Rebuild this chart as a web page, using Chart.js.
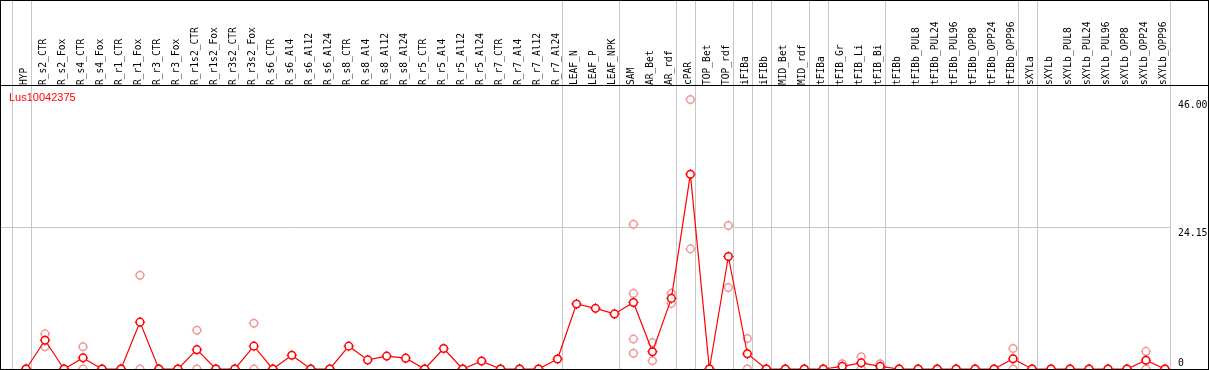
<!DOCTYPE html>
<html>
<head>
<meta charset="utf-8">
<script src="https://cdn.jsdelivr.net/npm/chart.js@4.4.1/dist/chart.umd.min.js"></script>
<style>
  html, body { margin: 0; padding: 0; background: #fff; }
  #wrap { width: 1209px; height: 370px; border: 1px solid #000; box-sizing: border-box; }
  canvas { display: block; }
</style>
</head>
<body>
<div id="wrap"><canvas id="myChart" width="1207" height="368"></canvas></div>
<script>
const geneName = "Lus10042375";

const categories = ["HYP", "R_s2_CTR", "R_s2_Fox", "R_s4_CTR", "R_s4_Fox", "R_r1_CTR", "R_r1_Fox", "R_r3_CTR", "R_r3_Fox",
  "R_r1s2_CTR", "R_r1s2_Fox", "R_r3s2_CTR", "R_r3s2_Fox", "R_s6_CTR", "R_s6_Al4", "R_s6_Al12", "R_s6_Al24",
  "R_s8_CTR", "R_s8_Al4", "R_s8_Al12", "R_s8_Al24", "R_r5_CTR", "R_r5_Al4", "R_r5_Al12", "R_r5_Al24",
  "R_r7_CTR", "R_r7_Al4", "R_r7_Al12", "R_r7_Al24", "LEAF_N", "LEAF_P", "LEAF_NPK", "SAM", "AR_Bet", "AR_rdf",
  "cPAR", "TOP_Bet", "TOP_rdf", "iFIBa", "iFIBb", "MID_Bet", "MID_rdf", "tFIBa", "tFIB_Gr", "tFIB_Li", "tFIB_Bi",
  "tFIBb", "tFIBb_PUL8", "tFIBb_PUL24", "tFIBb_PUL96", "tFIBb_OPP8", "tFIBb_OPP24", "tFIBb_OPP96",
  "sXYLa", "sXYLb", "sXYLb_PUL8", "sXYLb_PUL24", "sXYLb_PUL96", "sXYLb_OPP8", "sXYLb_OPP24", "sXYLb_OPP96"];

// mean expression per sample
const meanValues = [0, 4.9, 0, 1.9, 0, 0, 8.0, 0, 0, 3.3, 0, 0, 3.9, 0, 2.35, 0, 0,
  3.9, 1.55, 2.2, 1.85, 0, 3.5, 0, 1.35, 0, 0, 0, 1.7, 11.1, 10.35, 9.4, 11.35, 2.95, 12.05,
  33.25, 0, 19.2, 2.6, 0, 0, 0, 0, 0.45, 1.05, 0.45, 0, 0, 0, 0, 0, 0, 1.75,
  0, 0, 0, 0, 0, 0, 1.5, 0];

// replicates (null = none)
const repA = [0, 6.0, 0, 3.8, 0, 0, 16.0, 0, 0, 6.6, 0, 0, 7.8, 0, null, 0, 0,
  null, null, null, null, 0, null, 0, null, 0, 0, 0, null, null, null, null, 24.7, 4.5, 12.9,
  46.0, 0, 24.5, 5.2, 0, 0, 0, 0, 0.9, 2.1, 0.9, 0, 0, 0, 0, 0, 0, 3.5,
  0, 0, 0, 0, 0, 0, 3.0, 0];
const repB = [0, 3.8, 0, 0, 0, 0, 0, 0, 0, 0, 0, 0, 0, 0, null, 0, 0,
  null, null, null, null, 0, null, 0, null, 0, 0, 0, null, null, null, null, 12.9, 1.4, 11.2,
  20.5, 0, 13.9, 0, 0, 0, 0, 0, 0, 0, 0, 0, 0, 0, 0, 0, 0, 0,
  0, 0, 0, 0, 0, 0, 0, 0];
const repC = categories.map(c => c === "SAM" ? 5.1 : null);
const repD = categories.map(c => c === "SAM" ? 2.7 : null);

const yTicks = [0, 24.15, 46.0];
const yTickLabels = ["0", "24.15", "46.00"];
const yMax = 48.3;

// group separators drawn after these sample indexes
const groupEnds = [-1, 0, 28, 31, 34, 35, 37, 38, 39, 41, 42, 45, 52, 53, 60];

const red = "#ff0000";
const pink = "#f09a9a";
const gray = "#c6c6c6";
const mono = "'DejaVu Sans Mono', monospace";

const meanPoints = meanValues.map((v, i) => ({ x: i, y: v }));
const repPoints = [];
[repA, repB, repC, repD].forEach(rep => {
  rep.forEach((v, i) => { if (v !== null) repPoints.push({ x: i, y: v }); });
});

const noPad = s => { s.paddingLeft = 0; s.paddingRight = 0; s.paddingTop = 0; s.paddingBottom = 0; };

const frame = {
  id: "frame",
  afterDraw(chart) {
    const { ctx, chartArea } = chart;
    ctx.save();
    ctx.strokeStyle = "#000";
    ctx.lineWidth = 1;
    ctx.beginPath();
    ctx.moveTo(0, chartArea.top - 0.5);
    ctx.lineTo(chart.width, chartArea.top - 0.5);
    ctx.stroke();
    ctx.fillStyle = red;
    ctx.font = "11px 'Liberation Sans', Arial, sans-serif";
    ctx.textBaseline = "alphabetic";
    ctx.fillText(geneName, chartArea.left + 8, chartArea.top + 15);
    ctx.restore();
  }
};

const xMin = -1.32, xMax = 60.32;

new Chart(document.getElementById("myChart").getContext("2d"), {
  type: "line",
  data: {
    datasets: [
      {
        data: meanPoints, xAxisID: "x", yAxisID: "y", order: 1,
        borderColor: red, borderWidth: 1.2, tension: 0,
        pointStyle: "circle", pointRadius: 3.8, pointBorderWidth: 1.5,
        pointBorderColor: red, pointBackgroundColor: "#fff"
      },
      {
        data: meanPoints, xAxisID: "x", yAxisID: "y", order: 2, showLine: false,
        pointStyle: "cross", pointRadius: 5.2, pointBorderWidth: 1, pointBorderColor: red
      },
      {
        data: repPoints, xAxisID: "x", yAxisID: "y", order: 3, showLine: false,
        pointStyle: "circle", pointRadius: 3.8, pointBorderWidth: 1.5,
        pointBorderColor: pink, pointBackgroundColor: "#fff"
      },
      {
        data: repPoints, xAxisID: "x", yAxisID: "y", order: 4, showLine: false,
        pointStyle: "cross", pointRadius: 5.2, pointBorderWidth: 1, pointBorderColor: pink
      }
    ]
  },
  options: {
    responsive: false,
    animation: false,
    layout: { padding: 0, autoPadding: false },
    plugins: { legend: { display: false }, tooltip: { enabled: false } },
    scales: {
      x: {
        type: "linear", position: "top", weight: 1, min: xMin, max: xMax,
        grid: { display: false }, border: { display: false },
        afterBuildTicks: s => { s.ticks = categories.map((_, i) => ({ value: i })); },
        afterFit: s => { s.height = 85; noPad(s); },
        ticks: {
          autoSkip: false, minRotation: 90, maxRotation: 90, padding: -7, labelOffset: 10,
          color: "#000", font: { family: mono, size: 9.6 },
          callback: v => categories[v] ?? ""
        }
      },
      xg: {
        type: "linear", position: "top", weight: 0, min: xMin, max: xMax,
        border: { display: false },
        grid: { color: gray, lineWidth: 1, tickLength: 85, drawTicks: true },
        ticks: { display: false },
        afterBuildTicks: s => { s.ticks = groupEnds.map(i => ({ value: i + 0.27 })); },
        afterFit: s => { s.height = 0; noPad(s); }
      },
      y: {
        type: "linear", position: "right", min: 0, max: yMax,
        border: { display: false },
        grid: {
          drawTicks: false,
          color: c => (c.tick && c.tick.value === 24.15) ? gray : "rgba(0,0,0,0)"
        },
        afterBuildTicks: s => { s.ticks = yTicks.map(v => ({ value: v })); },
        afterFit: s => { s.width = 37; noPad(s); },
        ticks: {
          padding: 7, color: "#000", font: { family: mono, size: 9.8, lineHeight: 1.2 },
          callback: (v, i) => i === 0 ? [yTickLabels[i], ""] : ["", yTickLabels[i]]
        }
      }
    }
  },
  plugins: [frame]
});
</script>
</body>
</html>
